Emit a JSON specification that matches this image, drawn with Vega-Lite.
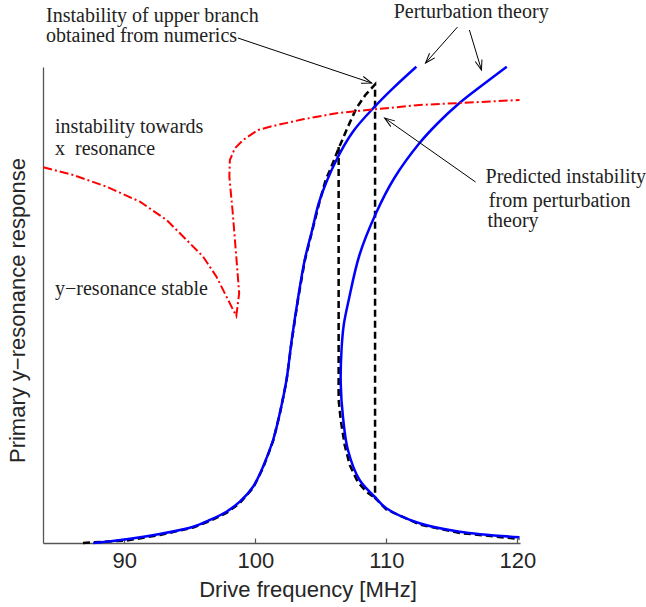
{
  "$schema": "https://vega.github.io/schema/vega-lite/v6.json",
  "width": 477,
  "height": 476,
  "autosize": {"type": "none"},
  "padding": {"left": 43, "top": 67, "right": 126, "bottom": 64},
  "background": "white",
  "config": {"view": {"stroke": null}},
  "datasets": {
    "upper": [
      {"x": 87.64, "y": 0}, {"x": 90.18, "y": 3.7}, {"x": 92.72, "y": 9}, {"x": 95.26, "y": 16.3},
      {"x": 96.53, "y": 23}, {"x": 97.8, "y": 31.3}, {"x": 98.82, "y": 41.3}, {"x": 99.83, "y": 56.3},
      {"x": 100.59, "y": 76.3}, {"x": 101.36, "y": 103}, {"x": 101.87, "y": 129.7}, {"x": 102.38, "y": 163},
      {"x": 102.78, "y": 203}, {"x": 103.24, "y": 243}, {"x": 103.77, "y": 283}, {"x": 104.34, "y": 313},
      {"x": 104.92, "y": 343}, {"x": 106.19, "y": 383}, {"x": 107.45, "y": 411.3}, {"x": 109.11, "y": 436.3},
      {"x": 110.5, "y": 454.7}, {"x": 112.29, "y": 476.3}
    ],
    "lower": [
      {"x": 119.19, "y": 476.3}, {"x": 117.34, "y": 458}, {"x": 115.56, "y": 439.7}, {"x": 113.94, "y": 420},
      {"x": 112.52, "y": 399.7}, {"x": 110.61, "y": 365}, {"x": 109.21, "y": 329.7}, {"x": 107.95, "y": 288},
      {"x": 107.13, "y": 243}, {"x": 106.75, "y": 218}, {"x": 106.58, "y": 193}, {"x": 106.52, "y": 159.7},
      {"x": 106.69, "y": 126.3}, {"x": 107.07, "y": 93}, {"x": 107.96, "y": 63}, {"x": 109.11, "y": 46.3},
      {"x": 110.0, "y": 34.7}, {"x": 112.54, "y": 19.7}, {"x": 115.59, "y": 11.3}, {"x": 120.16, "y": 5.7}
    ],
    "numerics": [
      {"seg": "a", "x": 86.85, "y": 0}, {"seg": "a", "x": 90.18, "y": 2.5}, {"seg": "a", "x": 92.72, "y": 8},
      {"seg": "a", "x": 95.26, "y": 15.5}, {"seg": "a", "x": 96.53, "y": 22}, {"seg": "a", "x": 97.8, "y": 30},
      {"seg": "a", "x": 98.82, "y": 40}, {"seg": "a", "x": 99.83, "y": 55}, {"seg": "a", "x": 100.59, "y": 75},
      {"seg": "a", "x": 101.36, "y": 102}, {"seg": "a", "x": 101.87, "y": 129}, {"seg": "a", "x": 102.38, "y": 162},
      {"seg": "a", "x": 102.78, "y": 202}, {"seg": "a", "x": 103.24, "y": 242}, {"seg": "a", "x": 103.77, "y": 282},
      {"seg": "a", "x": 104.34, "y": 312}, {"seg": "a", "x": 104.92, "y": 342}, {"seg": "a", "x": 105.37, "y": 363},
      {"seg": "a", "x": 105.81, "y": 376.3}, {"seg": "a", "x": 106.31, "y": 393}, {"seg": "a", "x": 107.07, "y": 416.3},
      {"seg": "a", "x": 107.71, "y": 434.7}, {"seg": "a", "x": 108.4, "y": 448}, {"seg": "a", "x": 109.14, "y": 458.5},
      {"seg": "a", "x": 109.14, "y": 45}, {"seg": "a", "x": 110.0, "y": 33.5}, {"seg": "a", "x": 112.54, "y": 18.5},
      {"seg": "a", "x": 115.59, "y": 10}, {"seg": "a", "x": 120.16, "y": 4},
      {"seg": "c", "x": 106.36, "y": 396}, {"seg": "c", "x": 106.36, "y": 143}, {"seg": "c", "x": 106.52, "y": 123},
      {"seg": "c", "x": 106.82, "y": 98}, {"seg": "c", "x": 107.21, "y": 78}, {"seg": "c", "x": 107.82, "y": 61},
      {"seg": "c", "x": 108.5, "y": 51}, {"seg": "c", "x": 109.14, "y": 45}
    ],
    "boundary": [
      {"x": 83.82, "y": 375.7}, {"x": 86.11, "y": 368}, {"x": 88.66, "y": 356.3}, {"x": 91.2, "y": 341.3},
      {"x": 93.23, "y": 323}, {"x": 94.76, "y": 303}, {"x": 96.02, "y": 286.3}, {"x": 97.04, "y": 266.3},
      {"x": 97.8, "y": 246.3}, {"x": 98.55, "y": 227}, {"x": 98.77, "y": 249.7}, {"x": 98.57, "y": 283},
      {"x": 98.26, "y": 333}, {"x": 98.02, "y": 366.3}, {"x": 98.06, "y": 383}, {"x": 98.44, "y": 394.7},
      {"x": 99.07, "y": 403}, {"x": 100.21, "y": 413}, {"x": 101.11, "y": 416.3}, {"x": 103.64, "y": 423.7},
      {"x": 106.19, "y": 429.7}, {"x": 109.11, "y": 433.7}, {"x": 112.54, "y": 438}, {"x": 120.16, "y": 443}
    ],
    "arrows": [
      {"id": 1, "x": 98.67, "y": 505, "x2": 108.88, "y2": 460},
      {"id": 2, "x": 115.43, "y": 516, "x2": 112.99, "y2": 480},
      {"id": 3, "x": 116.34, "y": 513, "x2": 117.26, "y2": 473},
      {"id": 4, "x": 116.81, "y": 361, "x2": 109.87, "y2": 425}
    ],
    "labels": [
      {"x": 84.03, "y": 521.3, "text": "Instability of upper branch"},
      {"x": 84.03, "y": 501.3, "text": "obtained from numerics"},
      {"x": 110.56, "y": 524.7, "text": "Perturbation theory"},
      {"x": 84.72, "y": 409.7, "text": "instability towards"},
      {"x": 84.72, "y": 388, "text": "x\u00a0\u00a0resonance"},
      {"x": 84.72, "y": 248, "text": "y−resonance stable"},
      {"x": 117.57, "y": 359.7, "text": "Predicted instability"},
      {"x": 117.82, "y": 336.3, "text": "from perturbation"},
      {"x": 117.72, "y": 316.3, "text": "theory"}
    ]
  },
  "encoding": {
    "x": {
      "field": "x", "type": "quantitative",
      "scale": {"domain": [83.8, 120.2], "nice": false, "zero": false},
      "axis": {
        "values": [90, 100, 110, 120], "grid": false,
        "domainColor": "#555", "domainWidth": 1.3, "tickColor": "#555", "tickWidth": 1.2, "tickSize": -5,
        "labelFont": "Liberation Sans", "labelFontSize": 22, "labelColor": "#262626", "labelPadding": 12,
        "title": "Drive frequency [MHz]", "titleFont": "Liberation Sans", "titleFontSize": 22,
        "titleFontWeight": "normal", "titleColor": "#262626",
        "titleX": 264.5, "titleY": 53, "titleBaseline": "alphabetic", "titleAlign": "center", "titleAnchor": null
      }
    },
    "y": {
      "field": "y", "type": "quantitative",
      "scale": {"domain": [0, 476], "nice": false, "zero": false},
      "axis": {
        "labels": false, "ticks": false, "grid": false,
        "domainColor": "#555", "domainWidth": 1.3,
        "title": "Primary y−resonance response", "titleFont": "Liberation Sans", "titleFontSize": 22,
        "titleFontWeight": "normal", "titleColor": "#262626",
        "titleX": -18.5, "titleY": 243, "titleAngle": -90, "titleBaseline": "alphabetic", "titleAlign": "center", "titleAnchor": null
      }
    }
  },
  "layer": [
    {
      "data": {"name": "numerics"},
      "mark": {"type": "line", "color": "#000000", "strokeWidth": 2.5, "strokeDash": [7, 4], "interpolate": "linear"},
      "encoding": {"order": {"value": null}, "detail": {"field": "seg"}}
    },
    {
      "data": {"name": "upper"},
      "mark": {"type": "line", "color": "#0000ff", "strokeWidth": 2.5, "interpolate": "catmull-rom"},
      "encoding": {"order": {"value": null}}
    },
    {
      "data": {"name": "lower"},
      "mark": {"type": "line", "color": "#0000ff", "strokeWidth": 2.5, "interpolate": "catmull-rom"},
      "encoding": {"order": {"value": null}}
    },
    {
      "data": {"name": "boundary"},
      "mark": {"type": "line", "color": "#ff0000", "strokeWidth": 2, "strokeDash": [9, 3, 2, 3], "interpolate": "linear"},
      "encoding": {"order": {"value": null}}
    },
    {
      "data": {"name": "arrows"},
      "mark": {"type": "rule", "color": "#000000", "strokeWidth": 1},
      "encoding": {"x2": {"field": "x2"}, "y2": {"field": "y2"}}
    },
    {
      "data": {"name": "arrows"},
      "transform": [{"filter": "datum.id == 1"}],
      "mark": {"type": "point", "shape": "M -1 -0.35 L 0 0 L -1 0.35", "filled": false, "stroke": "#000", "strokeWidth": 1, "size": 400, "angle": 18.6, "opacity": 1},
      "encoding": {"x": {"field": "x2", "type": "quantitative"}, "y": {"field": "y2", "type": "quantitative"}}
    },
    {
      "data": {"name": "arrows"},
      "transform": [{"filter": "datum.id == 2"}],
      "mark": {"type": "point", "shape": "M -1 -0.35 L 0 0 L -1 0.35", "filled": false, "stroke": "#000", "strokeWidth": 1, "size": 400, "angle": 131.6, "opacity": 1},
      "encoding": {"x": {"field": "x2", "type": "quantitative"}, "y": {"field": "y2", "type": "quantitative"}}
    },
    {
      "data": {"name": "arrows"},
      "transform": [{"filter": "datum.id == 3"}],
      "mark": {"type": "point", "shape": "M -1 -0.35 L 0 0 L -1 0.35", "filled": false, "stroke": "#000", "strokeWidth": 1, "size": 400, "angle": 73.3, "opacity": 1},
      "encoding": {"x": {"field": "x2", "type": "quantitative"}, "y": {"field": "y2", "type": "quantitative"}}
    },
    {
      "data": {"name": "arrows"},
      "transform": [{"filter": "datum.id == 4"}],
      "mark": {"type": "point", "shape": "M -1 -0.35 L 0 0 L -1 0.35", "filled": false, "stroke": "#000", "strokeWidth": 1, "size": 400, "angle": 215.1, "opacity": 1},
      "encoding": {"x": {"field": "x2", "type": "quantitative"}, "y": {"field": "y2", "type": "quantitative"}}
    },
    {
      "data": {"name": "labels"},
      "mark": {"type": "text", "font": "Liberation Serif", "fontSize": 20, "align": "left", "baseline": "alphabetic", "color": "#222"},
      "encoding": {"text": {"field": "text"}}
    }
  ]
}
